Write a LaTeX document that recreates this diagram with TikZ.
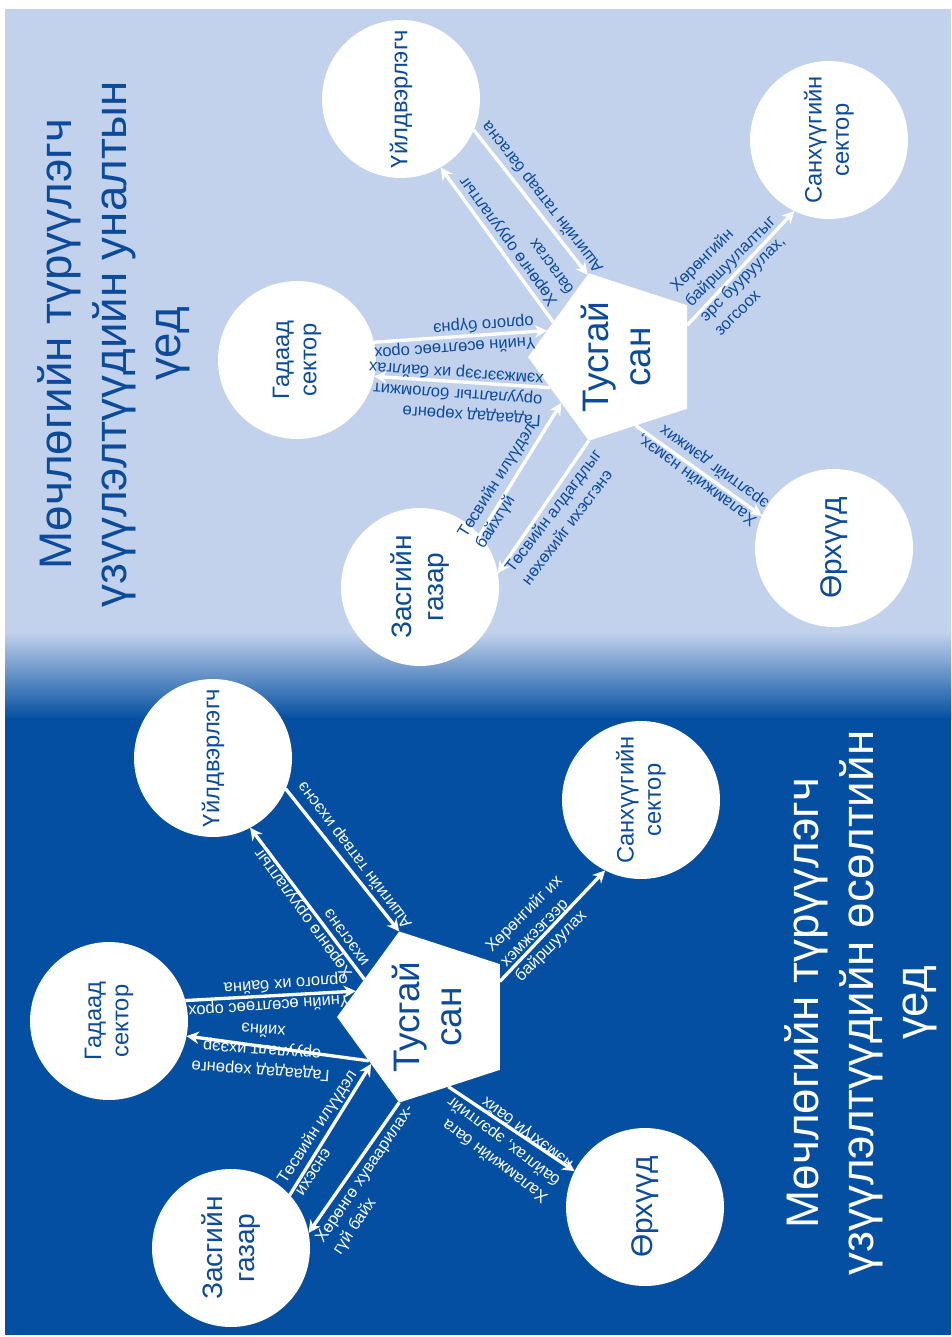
\documentclass[tikz,border=0pt]{standalone}
\usepackage{fontspec}
\setmainfont{Liberation Sans}
\usetikzlibrary{arrows.meta,shapes.geometric}
\definecolor{lightbg}{RGB}{194,210,236}
\definecolor{midbg}{RGB}{118,133,196}
\definecolor{darkbg}{RGB}{4,79,161}
\definecolor{txtblue}{RGB}{12,74,156}
\begin{document}
\begin{tikzpicture}[x=0.02cm,y=-0.02cm,
  circ/.style={circle,fill=white,minimum size=3.16cm,inner sep=0pt,outer sep=0pt},
  pent/.style={regular polygon,regular polygon sides=5,shape border rotate=90,fill=white,minimum size=#1,inner sep=0pt,outer sep=0pt},
  arr/.style={white,line width=1.9pt,-{Stealth[length=7pt,width=7pt]}},
  lbl/.style={text=#1,font=\fontsize{9.4}{11.8}\selectfont,align=left,inner sep=0pt},
  lbl/.default=txtblue,
  ntxt/.style={text=#1,rotate=90,align=center,font=\fontsize{13.5}{15.5}\selectfont},
  ntxt/.default=txtblue,
  ttl/.style={text=#1,rotate=90,align=center,font=\fontsize{26}{31}\selectfont}]
\useasboundingbox (0,0) rectangle (951,1337);
\fill[lightbg] (5,9) rectangle (951,633);
\shade[top color=lightbg,middle color=midbg,bottom color=darkbg] (5,632) rectangle (951,719);
\fill[darkbg] (5,718) rectangle (951,1335);

\node[ttl=txtblue] (h1) at (114,344) {Мөчлөгийн түрүүлэгч\\үзүүлэлтүүдийн уналтын\\үед};
\node[pent=3.52cm,label={[ntxt,font=\fontsize{21}{23.5}\selectfont]center:{Тусгай\\сан}}] (t1) at (616,357) {};
\node[circ,label={[ntxt]center:Үйлдвэрлэгч}] (u1) at (401,99) {};
\node[circ,label={[ntxt]center:{Гадаад\\сектор}}] (g1) at (297,360) {};
\node[circ,label={[ntxt]center:{Санхүүгийн\\сектор}}] (s1) at (829,140) {};
\node[circ,label={[ntxt,font=\fontsize{16}{18}\selectfont]center:{Засгийн\\газар}}] (z1) at (420,587) {};
\node[circ,label={[ntxt,font=\fontsize{17}{20}\selectfont]center:Өрхүүд}] (o1) at (834,548) {};
\draw[arr] (u1.-23) -- (t1.109);
\draw[arr] (t1.151) -- (u1.-60);
\draw[arr] (g1.13) -- (t1.159);
\draw[arr] (t1.205) -- (g1.-12);
\draw[arr] (z1.41) -- (t1.220);
\draw[arr] (t1.252) -- (z1.10);
\draw[arr] (t1.24) -- (s1.244);
\draw[arr] (t1.-74) -- (o1.156);
\node[lbl,rotate=128] (l1) at (543,197) {Ашигийн татвар багасна};
\node[lbl,rotate=126] (l2) at (516,236) {Хөрөнгө оруулалтыг\\багасгах};
\node[lbl,rotate=184] (l3) at (454,337) {Үнийн өсөлтөөс орох\\орлого бүрнэ};
\node[lbl,rotate=176] (l4) at (455,393) {Гадаадад хөрөнгө\\оруулалтыг боломжит\\хэмжээгээр их байлгах};
\node[lbl,rotate=58] (l5) at (506,486) {Төсвийн илүүдэл\\байхгүй};
\node[lbl,rotate=53] (l6) at (561,517) {Төсвийн алдагдлыг\\нөхөхийг ихэсгэнэ};
\node[lbl,rotate=45] (l7) at (737,268) {Хөрөнгийн\\байршуулалтыг\\эрс бууруулах,\\зогсоох};
\node[lbl,rotate=144] (l8) at (703,471) {Халамжийн нэмэх,\\эрэлтийг дэмжих};

\node[ttl=white] (h2) at (861,1003) {Мөчлөгийн түрүүлэгч\\үзүүлэлтүүдийн өсөлтийн\\үед};
\node[pent=3.6cm,label={[ntxt,font=\fontsize{21}{23.5}\selectfont]center:{Тусгай\\сан}}] (t2) at (427,1017) {};
\node[circ,label={[ntxt]center:Үйлдвэрлэгч}] (u2) at (213,758) {};
\node[circ,label={[ntxt]center:{Гадаад\\сектор}}] (g2) at (109,1021) {};
\node[circ,label={[ntxt]center:{Санхүүгийн\\сектор}}] (s2) at (641,800) {};
\node[circ,label={[ntxt,font=\fontsize{16}{18}\selectfont]center:{Засгийн\\газар}}] (z2) at (231,1248) {};
\node[circ,label={[ntxt,font=\fontsize{17}{20}\selectfont]center:Өрхүүд}] (o2) at (645,1207) {};
\draw[arr] (u2.-23) -- (t2.108);
\draw[arr] (t2.149) -- (u2.-62);
\draw[arr] (g2.15) -- (t2.160);
\draw[arr] (t2.217) -- (g2.-11);
\draw[arr] (z2.42) -- (t2.220);
\draw[arr] (t2.252) -- (z2.11);
\draw[arr] (t2.26) -- (s2.243);
\draw[arr] (t2.-73) -- (o2.153);
\node[lbl=white,rotate=127] (m1) at (355,855) {Ашигийн татвар ихэснэ};
\node[lbl=white,rotate=126] (m2) at (311,908) {Хөрөнгө оруулалтыг\\ихэсгэнэ};
\node[lbl=white,rotate=184] (m3) at (268,995) {Үнийн өсөлтөөс орох\\орлого их байна};
\node[lbl=white,rotate=176,align=center] (m4) at (262,1051) {Гадаадад хөрөнгө\\оруулалт ихээр\\хийнэ};
\node[lbl=white,rotate=57] (m5) at (325,1132) {Төсвийн илүүдэл\\ихэснэ};
\node[lbl=white,rotate=56] (m6) at (374,1180) {Хөрөнгө хуваарилах-\\гүй байх};
\node[lbl=white,rotate=45] (m7) at (539,929) {Хөрөнгийг их\\хэмжээгээр\\байршуулах};
\node[lbl=white,rotate=143] (m8) at (504,1141) {Халамжийн бага\\байлгах, эрэлтийг\\нэмэхгүй байх};
\end{tikzpicture}
\end{document}
